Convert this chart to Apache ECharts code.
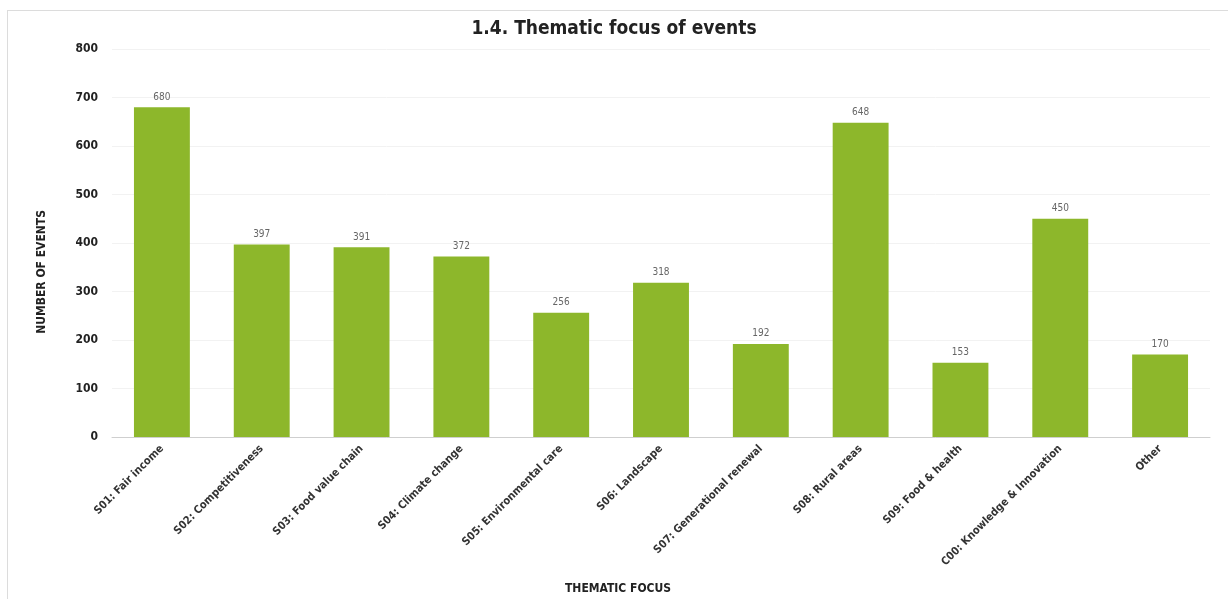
<!DOCTYPE html>
<html>
<head>
<meta charset="utf-8">
<script src="https://cdn.jsdelivr.net/npm/echarts@6/dist/echarts.min.js"></script>
<style>
  html, body { margin: 0; padding: 0; background: #fff; }
  #frame { position: absolute; left: 7px; top: 10px; width: 1221px; height: 589px;
           border-left: 1px solid #dcdcdc; border-top: 1px solid #dcdcdc; box-sizing: border-box; }
  #chart { position: absolute; left: 0; top: 0; width: 1228px; height: 599px; }
</style>
</head>
<body>
<div id="frame"></div>
<div id="chart"></div>
<script>
// Thematic focus categories and event counts
const categories = [
  'S01: Fair income', 'S02: Competitiveness', 'S03: Food value chain', 'S04: Climate change',
  'S05: Environmental care', 'S06: Landscape', 'S07: Generational renewal', 'S08: Rural areas',
  'S09: Food & health', 'C00: Knowledge & Innovation', 'Other'
];
const eventCounts = [680, 397, 391, 372, 256, 318, 192, 648, 153, 450, 170];
const yTicks = { min: 0, max: 800, interval: 100 };

const FONT = '"DejaVu Sans Condensed", "Liberation Sans Narrow", "Liberation Sans", sans-serif';

const chart = echarts.init(document.getElementById('chart'), null, { renderer: 'canvas' });
chart.setOption({
  animation: false,
  title: {
    text: '1.4. Thematic focus of events',
    left: 'center', top: 15,
    textStyle: { fontFamily: FONT, fontSize: 19, fontWeight: 'bold', color: '#222' }
  },
  grid: { left: 112, right: 18, top: 49, bottom: 162 },
  xAxis: {
    type: 'category',
    data: categories,
    axisTick: { show: false },
    axisLine: { lineStyle: { color: '#cfcfcf', width: 1 } },
    axisLabel: {
      interval: 0, rotate: 45, margin: 10,
      fontFamily: FONT, fontSize: 11, fontWeight: 'bold', color: '#333'
    }
  },
  yAxis: {
    type: 'value',
    min: yTicks.min, max: yTicks.max, interval: yTicks.interval,
    axisLine: { show: false },
    axisTick: { show: false },
    splitLine: { lineStyle: { color: '#f2f2f2', width: 1 } },
    axisLabel: { margin: 14, fontFamily: FONT, fontSize: 12, fontWeight: 'bold', color: '#222' }
  },
  series: [{
    type: 'bar',
    data: eventCounts,
    barWidth: '56%',
    itemStyle: { color: '#8db72b' },
    label: {
      show: true, position: 'top', distance: 5,
      fontFamily: FONT, fontSize: 10, color: '#666'
    }
  }],
  graphic: [
    {
      type: 'text', left: 36, top: 210, rotation: Math.PI / 2,
      style: { text: 'NUMBER OF EVENTS', fontFamily: FONT, fontSize: 12, fontWeight: 'bold', fill: '#222' }
    },
    {
      type: 'text', left: 565, top: 583,
      style: { text: 'THEMATIC FOCUS', fontFamily: FONT, fontSize: 12, fontWeight: 'bold', fill: '#222' }
    }
  ]
});
</script>
</body>
</html>
